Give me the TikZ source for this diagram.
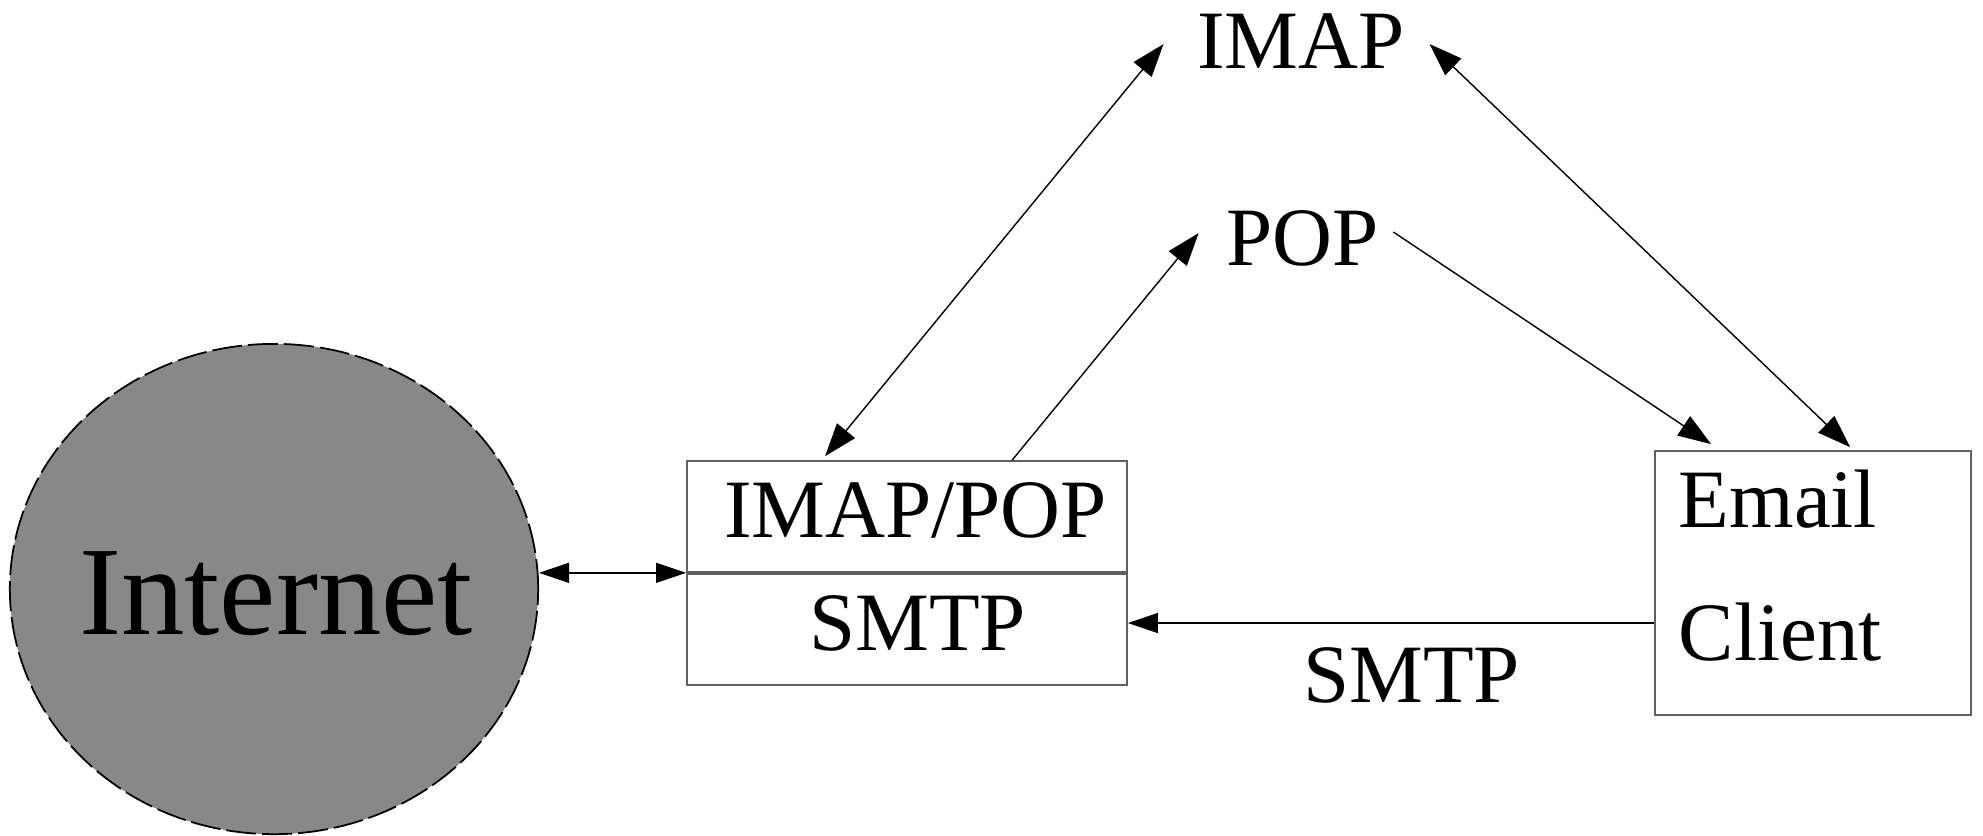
\documentclass[tikz,border=0pt]{standalone}
\usepackage{fontspec}
\setmainfont{Liberation Serif}
\usetikzlibrary{arrows.meta,calc,shapes.geometric}
\definecolor{cloudgray}{HTML}{888888}
\definecolor{boxline}{HTML}{606060}
\tikzset{
  lbl/.style={inner sep=0pt, font=\fontsize{23.6}{28}\selectfont},
  boxnode/.style={draw=boxline, line width=0.45pt, inner sep=0pt},
  conn/.style={line width=0.4pt},
  oneway/.style={conn, arrows={-Triangle[length=0.33cm,width=0.23cm]}},
  twoway/.style={conn, arrows={Triangle[length=0.33cm,width=0.23cm]-Triangle[length=0.33cm,width=0.23cm]}},
  onewayh/.style={conn, arrows={-Triangle[length=0.3cm,width=0.2cm]}},
  twowayh/.style={conn, arrows={Triangle[length=0.3cm,width=0.2cm]-Triangle[length=0.3cm,width=0.2cm]}},
}
\begin{document}
\begin{tikzpicture}[x=0.01cm,y=-0.01cm]
\useasboundingbox (0,0) rectangle (1983,835);
% Internet cloud
\node[ellipse, fill=cloudgray, draw=black, line width=0.5pt,
      dash pattern=on 0.3cm off 0.06cm,
      minimum width=5.28cm, minimum height=4.9cm, inner sep=0pt] (internet) at (274,589) {};
\node[inner sep=0pt, font=\fontsize{36}{40}\selectfont, anchor=base] (internett) at (276,634) {Internet};
% server boxes
\node[boxnode, minimum width=4.4cm, minimum height=1.11cm] (imappop) at (907,516.5) {};
\node[boxnode, minimum width=4.4cm, minimum height=1.11cm] (smtpbox) at (907,629.5) {};
\node[lbl, anchor=base] (imappopt) at (915.5,537) {IMAP/POP};
\node[lbl, anchor=base] (smtpboxt) at (917.5,650) {SMTP};
% client
\node[boxnode, minimum width=3.16cm, minimum height=2.64cm] (client) at (1813,583) {};
\node[lbl, anchor=base west] (emailt) at (1678,527) {Email};
\node[lbl, anchor=base west] (clientt) at (1678,660) {Client};
% protocol labels
\node[lbl, anchor=base] (imap) at (1301,68) {IMAP};
\node[lbl, anchor=base] (pop) at (1302.5,265) {POP};
\node[lbl, anchor=base] (smtplbl) at (1411.5,702) {SMTP};
% connectors
\draw[twoway] ($(imappop.north west)+(139,-4)$) -- ($(imap.base west)+(-33,-24)$);
\draw[oneway] ($(imappop.north west)+(326,0)$) -- ($(pop.base west)+(-27,-32)$);
\draw[oneway] ($(pop.base east)+(14,-33)$) -- ($(client.north west)+(57,-6)$);
\draw[twoway] ($(imap.base east)+(24,-24)$) -- ($(client.north west)+(196,-3)$);
\coordinate (smtpstart) at ($(client.west)+(0,40)$);
\draw[onewayh] (smtpstart) -- (smtpbox.east |- smtpstart);
\draw[twowayh] (internet.east |- imappop.south west) -- (imappop.south west);
\end{tikzpicture}
\end{document}
